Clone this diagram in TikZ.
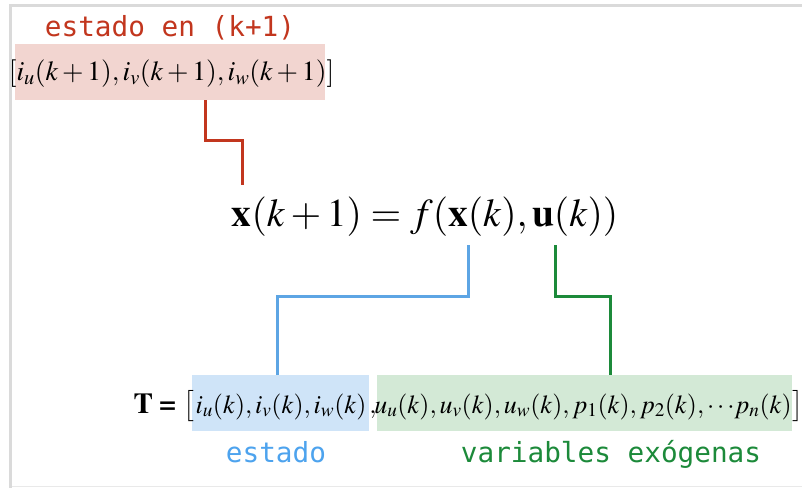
\documentclass[tikz,border=0pt]{standalone}
\usepackage{mathptmx}
\usepackage[no-math]{fontspec}
\newfontfamily\monofont{DejaVu Sans Mono}
\definecolor{redc}{RGB}{194,54,30}
\definecolor{pinkf}{RGB}{242,213,208}
\definecolor{bluec}{RGB}{93,165,228}
\definecolor{bluef}{RGB}{207,228,248}
\definecolor{bluet}{RGB}{77,163,238}
\definecolor{greenc}{RGB}{28,138,58}
\definecolor{greenf}{RGB}{211,233,214}
\definecolor{framec}{RGB}{218,218,218}
\newcommand{\boldeq}{\mathrel{\hbox{\usefont{OT1}{ptm}{b}{n}=}}}
\tikzset{
  monolbl/.style={font=\monofont\fontsize{27.7}{30}\selectfont, anchor=base, inner sep=0pt},
  mathlbl/.style={anchor=base, inner sep=0pt, font=\fontsize{#1}{#1}\selectfont},
  boxn/.style={draw=none, inner sep=0pt, minimum height=56pt},
  conn/.style={line width=3pt, line cap=butt, line join=miter},
}
\begin{document}
\begin{tikzpicture}[x=1pt,y=-1pt]
\useasboundingbox (0,0) rectangle (802,488);
\fill[white] (0,0) rectangle (802,488);
% frame
\fill[framec] (9,4) rectangle (802,6.5);
\fill[framec] (9,4) rectangle (12,488);
\fill[framec!60] (12,485.5) rectangle (802,487);
% top
\node[monolbl, text=redc] (lblk) at (170,36) {estado en (k+1)};
\node[boxn, fill=pinkf, minimum width=310pt] (pbox) at (170,72) {};
\node[mathlbl=27.6] (ptext) at (171.5,80) {$[i_u(k+1), i_v(k+1), i_w(k+1)]$};
% equation
\node[mathlbl=39.5] (eq) at (425,226) {$\mathbf{x}(k+1) = f(\mathbf{x}(k), \mathbf{u}(k))$};
% bottom boxes
\node[boxn, fill=bluef, minimum width=177pt] (bbox) at (280.5,403) {};
\node[boxn, fill=greenf, minimum width=415pt] (gbox) at (584.5,403) {};
\node[mathlbl=26] (btext) at (281,413) {$i_u(k), i_v(k), i_w(k)$};
\node[mathlbl=26] (comma) at (373,413) {$,$};
\node[mathlbl=26] (gtext) at (583,413) {$u_u(k), u_v(k), u_w(k), p_1(k), p_2(k), {\cdots}p_n(k)$};
\node[mathlbl=26, anchor=base east] (lbr) at ([xshift=-1pt]btext.base west) {$\bigl[$};
\node[mathlbl=26, anchor=base west] (rbr) at ([xshift=0.5pt]gtext.base east) {$\bigr]$};
\node[mathlbl=29, anchor=base east] (tlbl) at ([xshift=-7pt]lbr.base west) {$\mathbf{T}\boldeq$};
\node[monolbl, text=bluet] (lblest) at (276,462) {estado};
\node[monolbl, text=greenc] (lblexo) at (611,462) {variables exógenas};
% connectors
\coordinate (rTop) at (205,100);
\coordinate (rEnd) at (242,185);
\draw[conn, redc] (rTop) -- ++(0,40) -| (rEnd);
\coordinate (bTop) at (468,245);
\coordinate (bEnd) at (277,375);
\draw[conn, bluec] (bTop) -- ++(0,51) -| (bEnd);
\coordinate (gTop) at (555,245);
\coordinate (gEnd) at (610,375);
\draw[conn, greenc] (gTop) -- ++(0,51) -| (gEnd);
\end{tikzpicture}
\end{document}
